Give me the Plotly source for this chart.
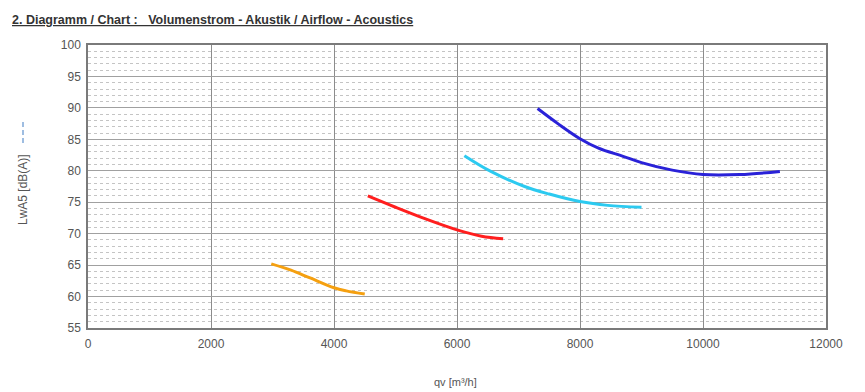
import plotly.graph_objects as go

# Data
orange_qv = [2980, 3300, 3600, 4000, 4200, 4500]
orange_lw = [65.2, 64.2, 63.0, 61.4, 60.9, 60.4]

red_qv = [4550, 5000, 5500, 6000, 6400, 6750]
red_lw = [76.0, 74.2, 72.3, 70.6, 69.6, 69.2]

cyan_qv = [6120, 6550, 7100, 7500, 8000, 8450, 9000]
cyan_lw = [82.4, 79.9, 77.5, 76.3, 75.1, 74.5, 74.2]

blue_qv = [7310, 7640, 8000, 8300, 8700, 9000, 9500, 10000, 10600, 11250]
blue_lw = [89.9, 87.5, 85.1, 83.6, 82.3, 81.3, 80.1, 79.4, 79.4, 79.9]

x_ticks = [0, 2000, 4000, 6000, 8000, 10000, 12000]
y_ticks = [55, 60, 65, 70, 75, 80, 85, 90, 95, 100]

series = [
    (orange_qv, orange_lw, "#f5a010"),
    (red_qv, red_lw, "#ff1e1e"),
    (cyan_qv, cyan_lw, "#2ccaf0"),
    (blue_qv, blue_lw, "#2a22d8"),
]

fig = go.Figure()
for qv, lw, col in series:
    fig.add_trace(go.Scatter(x=qv, y=lw, mode="lines", line=dict(color=col, width=3, shape="spline"),
                             showlegend=False, hoverinfo="skip"))

FAM = "Liberation Sans, Arial, sans-serif"
PW, PH = 738, 283
L, T = 80, 37

fig.update_layout(
    width=865, height=392,
    margin=dict(l=L, r=865 - L - PW, t=T, b=392 - T - PH),
    paper_bgcolor="white", plot_bgcolor="white",
    font=dict(family=FAM, size=12, color="#555555"),
    showlegend=False,
)
# chart heading
fig.add_annotation(
    text="2. Diagramm / Chart :   Volumenstrom - Akustik / Airflow - Acoustics",
    xref="paper", yref="paper", x=(2 - L) / PW, y=1 + 25 / PH, xanchor="left", yanchor="middle",
    showarrow=False,
    font=dict(family=FAM, size=12.5, color="#333333", weight="bold", lineposition="under"),
)
# axis titles
fig.add_annotation(
    text="qv [m³/h]", xref="paper", yref="paper", x=(447 - L) / PW, y=-54 / PH,
    xanchor="center", yanchor="middle", showarrow=False, font=dict(family=FAM, size=11, color="#555555"),
)
fig.add_annotation(
    text="LwA5 [dB(A)]", xref="paper", yref="paper", x=(15 - L) / PW, y=(328 - 190) / PH,
    xanchor="center", yanchor="middle", textangle=-90, showarrow=False,
    font=dict(family=FAM, size=12, color="#555555"),
)
fig.add_shape(
    type="line", xref="paper", yref="paper", x0=(15 - L) / PW, x1=(15 - L) / PW,
    y0=(328 - 122) / PH, y1=(328 - 144) / PH,
    line=dict(color="#7fa8d8", width=1.5, dash="5px,3px"),
)
fig.update_xaxes(
    range=[0, 12000], tickvals=x_ticks, ticktext=[str(v) for v in x_ticks],
    showgrid=True, gridcolor="#8c8c8c", gridwidth=1,
    showline=True, linecolor="#7a7a7a", linewidth=1.5, mirror=True,
    zeroline=False, ticks="", ticklen=0, ticklabelstandoff=4,
)
fig.update_yaxes(
    range=[55, 100], tickvals=y_ticks, ticktext=[str(v) for v in y_ticks],
    showgrid=True, gridcolor="#a0a0a0", gridwidth=1,
    minor=dict(dtick=1, showgrid=True, gridcolor="#c4c4c4", griddash="dot", gridwidth=1),
    showline=True, linecolor="#7a7a7a", linewidth=1.5, mirror=True,
    zeroline=False, ticks="", ticklen=0, ticklabelstandoff=3,
)
fig.write_html("out.html")
